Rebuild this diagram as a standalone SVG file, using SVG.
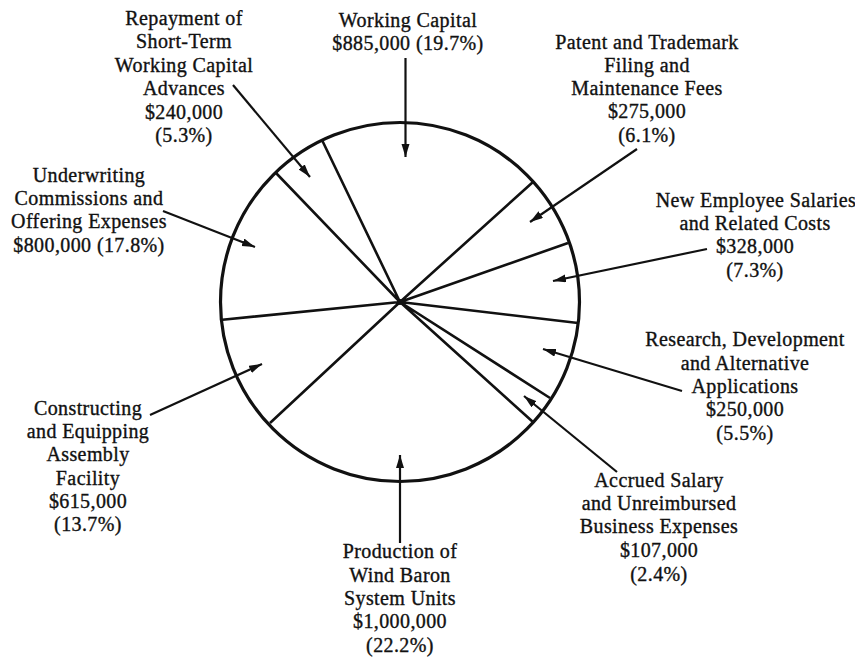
<svg xmlns="http://www.w3.org/2000/svg" width="855" height="661" viewBox="0 0 855 661">
<defs>
<marker id="ah" markerUnits="userSpaceOnUse" markerWidth="14" markerHeight="10" refX="13" refY="4" orient="auto">
<path d="M0,0 L13,4 L0,8 z" fill="#111"/>
</marker>
<style>
text{font-family:"Liberation Serif","Times New Roman",serif;font-size:20px;fill:#111;stroke:#111;stroke-width:0.35px;letter-spacing:0.4px;text-anchor:middle}
.rim{fill:none;stroke:#111;stroke-width:3.2}
.spoke{stroke:#111;stroke-width:2.6;fill:none}
.arr{stroke:#111;stroke-width:2.2;fill:none;marker-end:url(#ah)}
</style>
</defs>
<rect width="855" height="661" fill="#fff"/>
<g id="pie">
<circle class="rim" cx="400" cy="302" r="179.5"/>
<path class="spoke" d="M400,302 L533,182 M400,302 L568,243 M400,302 L578,323 M400,302 L550,398 M400,302 L533,422 M400,302 L270,423 M400,302 L220,320 M400,302 L276,173 M400,302 L322,140"/>
<circle cx="400" cy="302" r="3" fill="#111"/>
</g>
<g id="connectors">
<line class="arr" x1="405.5" y1="58" x2="405.5" y2="157"/>
<line class="arr" x1="233" y1="85" x2="310" y2="177"/>
<line class="arr" x1="163" y1="211" x2="255" y2="247"/>
<line class="arr" x1="637" y1="149" x2="530" y2="222"/>
<line class="arr" x1="707" y1="249" x2="553" y2="281"/>
<line class="arr" x1="682" y1="391" x2="543" y2="349"/>
<line class="arr" x1="617" y1="472" x2="524" y2="396"/>
<line class="arr" x1="400" y1="543" x2="400" y2="455"/>
<line class="arr" x1="150" y1="415" x2="262" y2="364"/>
</g>
<g id="working-capital">
<text x="408" y="26.5">Working Capital</text>
<text x="408" y="50">$885,000 (19.7%)</text>
</g>
<g id="repayment">
<text x="184" y="25">Repayment of</text>
<text x="184" y="48.4">Short-Term</text>
<text x="184" y="71.8">Working Capital</text>
<text x="184" y="95.2">Advances</text>
<text x="184" y="118.6">$240,000</text>
<text x="184" y="142">(5.3%)</text>
</g>
<g id="patent">
<text x="647" y="48.5">Patent and Trademark</text>
<text x="647" y="71.8">Filing and</text>
<text x="647" y="95.1">Maintenance Fees</text>
<text x="647" y="118.4">$275,000</text>
<text x="647" y="141.7">(6.1%)</text>
</g>
<g id="new-employee">
<text x="756" y="206.5">New Employee Salaries</text>
<text x="755" y="230">and Related Costs</text>
<text x="755" y="253.3">$328,000</text>
<text x="755" y="276.7">(7.3%)</text>
</g>
<g id="research">
<text x="745" y="346">Research, Development</text>
<text x="745" y="369.5">and Alternative</text>
<text x="745" y="393">Applications</text>
<text x="745" y="416">$250,000</text>
<text x="745" y="440">(5.5%)</text>
</g>
<g id="accrued">
<text x="659" y="486.7">Accrued Salary</text>
<text x="659" y="510">and Unreimbursed</text>
<text x="659" y="533.3">Business Expenses</text>
<text x="659" y="557">$107,000</text>
<text x="659" y="580.5">(2.4%)</text>
</g>
<g id="production">
<text x="400" y="558.3">Production of</text>
<text x="400" y="581.7">Wind Baron</text>
<text x="400" y="605">System Units</text>
<text x="400" y="628.4">$1,000,000</text>
<text x="400" y="651.8">(22.2%)</text>
</g>
<g id="constructing">
<text x="88" y="414.5">Constructing</text>
<text x="88" y="438">and Equipping</text>
<text x="88" y="461.3">Assembly</text>
<text x="88" y="484.7">Facility</text>
<text x="88" y="508">$615,000</text>
<text x="88" y="531.4">(13.7%)</text>
</g>
<g id="underwriting">
<text x="89" y="181.7">Underwriting</text>
<text x="89" y="205">Commissions and</text>
<text x="89" y="228.3">Offering Expenses</text>
<text x="89" y="251.7">$800,000 (17.8%)</text>
</g>
</svg>
